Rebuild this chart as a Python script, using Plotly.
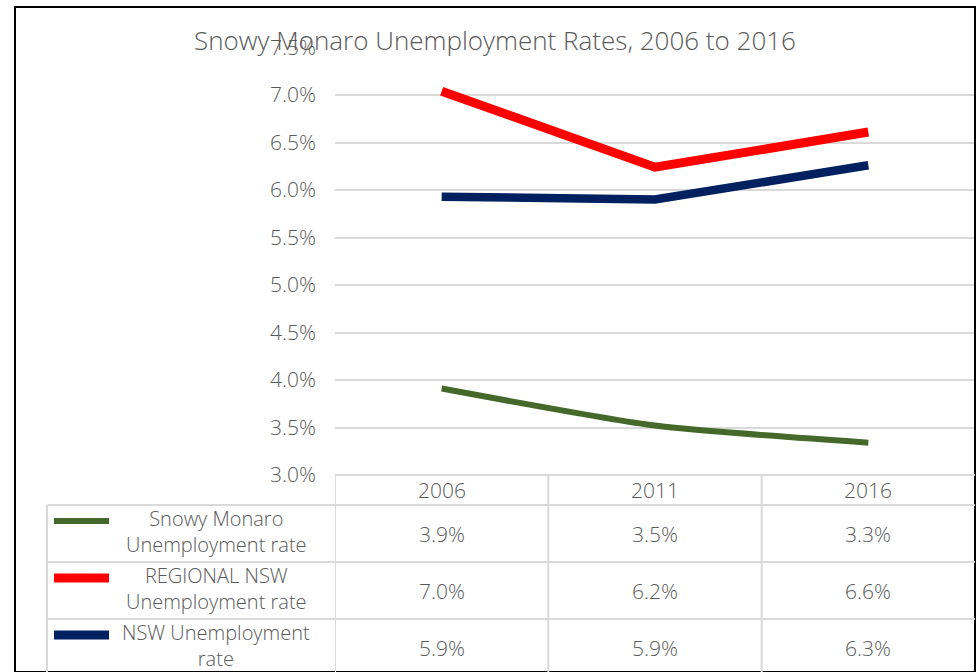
import plotly.graph_objects as go

W, H = 978, 672

years = ["2006", "2011", "2016"]
snowy = [3.91, 3.52, 3.34]
regional = [7.04, 6.24, 6.61]
nsw = [5.93, 5.90, 6.26]

series_labels = [
    "Snowy Monaro<br>Unemployment rate",
    "REGIONAL NSW<br>Unemployment rate",
    "NSW Unemployment<br>rate",
]
series_values = [snowy, regional, nsw]
series_colors = ["#44692b", "#ff0000", "#002060"]
series_widths = [6, 9, 8.5]
series_shapes = ["spline", "linear", "linear"]

TXT = "#595959"
GRID = "#d9d9d9"
FONT = "Open Sans"
FS = 21
FW = 300

def px_x(p):
    return p / W

def px_y(p):
    return 1 - p / H

fig = go.Figure()
for lab, vals, col, wd, shp in zip(series_labels, series_values, series_colors, series_widths, series_shapes):
    fig.add_trace(go.Scatter(
        x=years, y=vals, mode="lines", name=lab.replace("<br>", " "),
        line=dict(color=col, width=wd, shape=shp, smoothing=0.6),
        showlegend=False, hoverinfo="skip",
    ))

shapes = []
annotations = []

# Chart frame
shapes.append(dict(type="rect", xref="paper", yref="paper",
                   x0=px_x(15), x1=px_x(975), y0=0, y1=px_y(7),
                   line=dict(color="#000000", width=2), layer="above"))

# Table grid
tbl_top = 475
rows = [505, 562, 619, 676]
tbl_left = 47
col_left = 335
tbl_right = 975
lw = 2
shapes.append(dict(type="line", xref="paper", yref="paper",
                   x0=px_x(col_left), x1=px_x(tbl_right), y0=px_y(tbl_top), y1=px_y(tbl_top),
                   line=dict(color=GRID, width=lw)))
for r in rows[:-1]:
    shapes.append(dict(type="line", xref="paper", yref="paper",
                       x0=px_x(tbl_left), x1=px_x(tbl_right), y0=px_y(r), y1=px_y(r),
                       line=dict(color=GRID, width=lw)))
shapes.append(dict(type="line", xref="paper", yref="paper",
                   x0=px_x(tbl_left), x1=px_x(tbl_left), y0=px_y(rows[0]), y1=0,
                   line=dict(color=GRID, width=lw)))
for xb in [-0.5, 0.5, 1.5]:
    shapes.append(dict(type="line", xref="x", yref="paper",
                       x0=xb, x1=xb, y0=px_y(tbl_top), y1=0,
                       line=dict(color=GRID, width=lw)))

font = dict(family=FONT, size=FS, color=TXT, weight=FW)

# Header years
for i, yr in enumerate(years):
    annotations.append(dict(x=i, y=px_y((tbl_top + rows[0]) / 2), xref="x", yref="paper",
                            text=yr, showarrow=False, xanchor="center", yanchor="middle",
                            font=font))

# Rows
for r, (lab, vals, col) in enumerate(zip(series_labels, series_values, series_colors)):
    top, bot = rows[r], rows[r + 1]
    cy = (top + bot) / 2
    key_y = top + 16
    shapes.append(dict(type="line", xref="paper", yref="paper",
                       x0=px_x(54), x1=px_x(109), y0=px_y(key_y), y1=px_y(key_y),
                       line=dict(color=col, width=[6, 9, 9][r])))
    annotations.append(dict(x=px_x(216), y=px_y(top + 26), xref="paper", yref="paper",
                            text=lab, showarrow=False, xanchor="center", yanchor="middle",
                            align="center",
                            font=dict(family=FONT, size=20, color=TXT, weight=FW)))
    for i, v in enumerate(vals):
        annotations.append(dict(x=i, y=px_y(cy), xref="x", yref="paper",
                                text=f"{v:.1f}%", showarrow=False, xanchor="center",
                                yanchor="middle", font=font))

# Title
annotations.append(dict(x=px_x(495), y=px_y(40), xref="paper", yref="paper",
                        text="Snowy Monaro Unemployment Rates, 2006 to 2016",
                        showarrow=False, xanchor="center", yanchor="middle",
                        font=dict(family=FONT, size=26, color=TXT, weight=FW)))

fig.update_layout(
    width=W, height=H,
    margin=dict(l=0, r=0, t=0, b=0, autoexpand=False),
    paper_bgcolor="white", plot_bgcolor="white",
    shapes=shapes, annotations=annotations,
    xaxis=dict(domain=[px_x(col_left), px_x(tbl_right)], type="category",
               range=[-0.5, 2.5], showticklabels=False, showgrid=False,
               zeroline=False, showline=False, fixedrange=True, automargin=False),
    yaxis=dict(domain=[px_y(475), px_y(47.5)], range=[3.0, 7.5], dtick=0.5,
               tick0=3.0, tickformat=".1f", ticksuffix="%",
               showgrid=True, gridcolor=GRID, gridwidth=1.5, automargin=False,
               zeroline=False, showline=False, ticklabelstandoff=18,
               tickfont=font),
)

fig.write_html("out.html", config={"displayModeBar": False},
               post_script="document.body.style.margin='0';")
